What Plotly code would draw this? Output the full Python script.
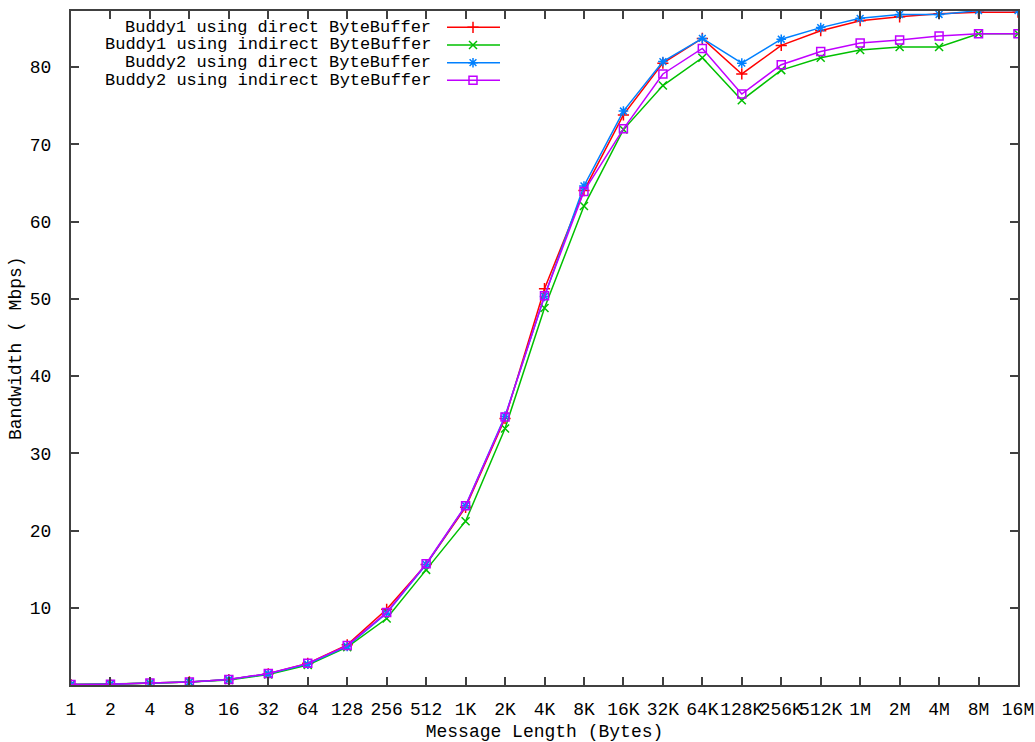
import plotly.graph_objects as go

categories = ["1", "2", "4", "8", "16", "32", "64", "128", "256", "512", "1K", "2K", "4K", "8K",
              "16K", "32K", "64K", "128K", "256K", "512K", "1M", "2M", "4M", "8M", "16M"]

buddy1_direct = [0.05, 0.1, 0.25, 0.4, 0.7, 1.45, 2.8, 5.2, 9.8, 15.6, 23.0, 34.5, 51.3, 64.0,
                 73.8, 80.5, 83.7, 79.1, 82.8, 84.7, 86.0, 86.5, 86.9, 87.1, 87.1]
buddy1_indirect = [0.05, 0.1, 0.22, 0.38, 0.65, 1.35, 2.6, 4.9, 8.6, 14.9, 21.2, 33.2, 48.8, 62.0,
                   71.9, 77.6, 81.2, 75.7, 79.6, 81.2, 82.2, 82.6, 82.6, 84.3, 84.3]
buddy2_direct = [0.05, 0.1, 0.25, 0.4, 0.7, 1.45, 2.7, 5.0, 9.3, 15.6, 23.2, 34.8, 50.3, 64.6,
                 74.3, 80.7, 83.7, 80.5, 83.6, 85.1, 86.3, 86.8, 86.8, 87.3, 87.3]
buddy2_indirect = [0.05, 0.1, 0.25, 0.4, 0.7, 1.5, 2.8, 5.1, 9.4, 15.7, 23.2, 34.7, 50.4, 63.9,
                   72.0, 79.1, 82.4, 76.5, 80.3, 82.0, 83.1, 83.5, 84.0, 84.3, 84.3]

series_names = ["Buddy1 using direct ByteBuffer", "Buddy1 using indirect ByteBuffer",
                "Buddy2 using direct ByteBuffer", "Buddy2 using indirect ByteBuffer"]
series_values = [buddy1_direct, buddy1_indirect, buddy2_direct, buddy2_indirect]
colors = ["#ff0000", "#00c000", "#0080ff", "#c000ff"]
symbols = ["cross-thin-open", "x-thin-open", "asterisk-open", "square-open"]

y_ticks = [10, 20, 30, 40, 50, 60, 70, 80]

FONT = "Liberation Mono"
W, H = 1035, 742
L, R, T, B = 71, 17, 11, 57

fig = go.Figure()
for name, vals, col, sym in zip(series_names, series_values, colors, symbols):
    fig.add_trace(go.Scatter(
        x=categories, y=vals, mode="lines+markers", name=name,
        line=dict(color=col, width=1.5),
        marker=dict(symbol=sym, size=8, color=col, line=dict(color=col, width=1.5)),
        showlegend=False,
    ))

# manual gnuplot-style key (text right-aligned, sample to the right), pixel coords of the plot area
key_rows = [27.3, 45.0, 62.7, 80.3]
for name, col, sym, ry in zip(series_names, colors, symbols, key_rows):
    fig.add_trace(go.Scatter(
        x=[447, 500], y=[ry, ry], xaxis="x2", yaxis="y2", mode="lines",
        line=dict(color=col, width=1.5), showlegend=False, hoverinfo="skip"))
    fig.add_trace(go.Scatter(
        x=[473], y=[ry], xaxis="x2", yaxis="y2", mode="markers",
        marker=dict(symbol=sym, size=8, color=col, line=dict(color=col, width=1.5)),
        showlegend=False, hoverinfo="skip"))
    fig.add_annotation(x=433, y=ry, xref="x2", yref="y2", text=name, showarrow=False,
                       xanchor="right", yanchor="middle",
                       font=dict(family=FONT, size=17, color="black"))

# y-axis title placed as gnuplot does
fig.add_annotation(x=(16 - L) / (W - L - R), y=0.5, xref="paper", yref="paper",
                   text="Bandwidth ( Mbps)", textangle=-90, showarrow=False,
                   xanchor="center", yanchor="middle",
                   font=dict(family=FONT, size=18, color="black"))

axis_common = dict(showline=True, linecolor="#404040", linewidth=2, mirror="ticks",
                   ticks="inside", ticklen=8, tickwidth=1.5, tickcolor="#404040",
                   showgrid=False, zeroline=False, automargin=False, tickangle=0,
                   tickfont=dict(family=FONT, size=18, color="black"))

fig.update_layout(
    width=W, height=H,
    margin=dict(l=L, r=R, t=T, b=B, pad=0),
    paper_bgcolor="white", plot_bgcolor="white",
    xaxis=dict(type="category", range=[0, len(categories) - 1],
               title=dict(text="Message Length (Bytes)", standoff=6,
                          font=dict(family=FONT, size=18, color="black")),
               ticklabelstandoff=6, **axis_common),
    yaxis=dict(range=[0, 87.25], tickvals=y_ticks,
               ticklabelstandoff=14, **axis_common),
    xaxis2=dict(overlaying="x", range=[71, 1018], visible=False, fixedrange=True),
    yaxis2=dict(overlaying="y", range=[685.3, 11], visible=False, fixedrange=True),
)

fig.write_html(
    "out.html",
    config={"displayModeBar": False},
    post_script="document.body.style.margin='0';document.body.style.overflow='hidden';",
)
